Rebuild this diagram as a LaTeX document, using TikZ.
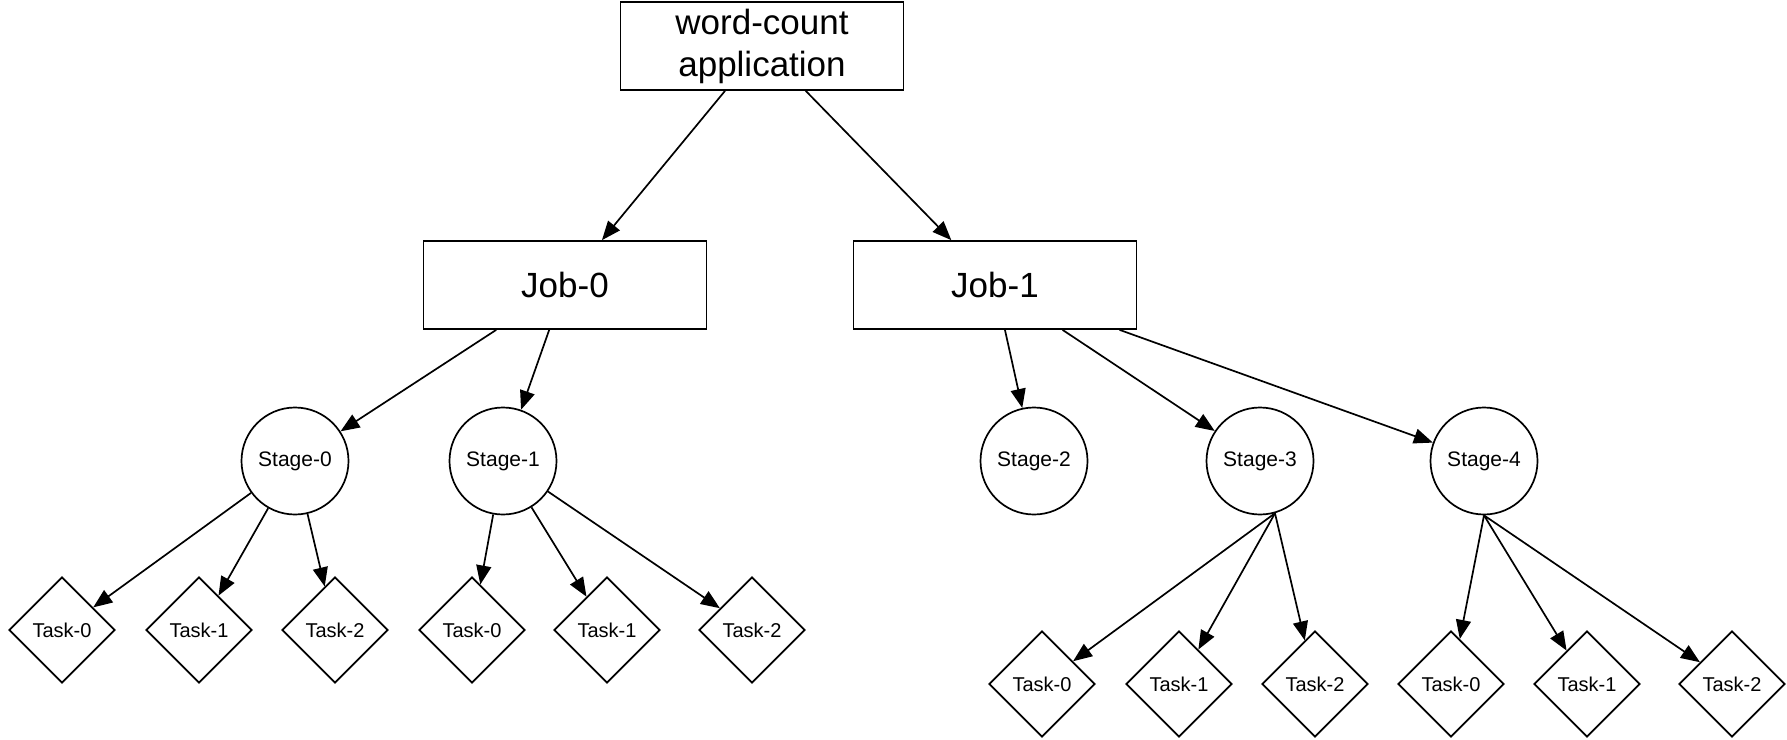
\documentclass[tikz,border=0pt]{standalone}
\usepackage{fontspec}
\setmainfont{Liberation Sans}
\usetikzlibrary{shapes.geometric,arrows.meta}

\tikzset{
  box/.style={draw, rectangle, minimum width=141.5pt, minimum height=44pt, inner sep=0pt, align=center, font=\fontsize{17.5}{21}\selectfont},
  stage/.style={draw, circle, minimum size=53.5pt, inner sep=0pt, font=\fontsize{10.5}{12}\selectfont},
  task/.style={draw, diamond, minimum width=53pt, minimum height=53pt, inner sep=0pt, font=\fontsize{10}{12}\selectfont},
  pfeil/.style={-{Triangle[length=9.5pt,width=7.5pt]}}
}

\begin{document}
\begin{tikzpicture}[x=0.5pt,y=-0.5pt,line width=0.85pt]
  \useasboundingbox (0,0) rectangle (1787,739);

  %Anwendung und Jobs
  \node[box] (app) at (762,46) {word-count\\application};
  \node[box] (job0) at (565,285) {Job-0};
  \node[box] (job1) at (995,285) {Job-1};

  %Stages
  \foreach \n/\x in {0/295,1/503,2/1034,3/1260,4/1484}
    \node[stage] (s\n) at (\x,461) {Stage-\n};

  %Tasks
  \foreach \s/\y/\xa/\xb/\xc in {0/630/62/199/335, 1/630/472/607/752, 3/684/1042/1179/1315, 4/684/1451/1587/1732}{
    \foreach \t/\x in {0/\xa,1/\xb,2/\xc}
      \node[task] (t\s\t) at (\x,\y) {Task-\t};
  }

  %Pfeile
  \draw[pfeil] (app) -- (job0);
  \draw[pfeil] (app) -- (job1);
  \draw[pfeil] (job0) -- (s0);
  \draw[pfeil] (job0) -- (s1);
  \foreach \n in {2,3,4}
    \draw[pfeil] (job1) -- (s\n);
  \foreach \t in {0,1,2}{
    \draw[pfeil] (s0) -- (t0\t);
    \draw[pfeil] (s1) -- (t1\t);
    \draw[pfeil] (s3.-74) -- (t3\t);
    \draw[pfeil] (s4.south) -- (t4\t);
  }
\end{tikzpicture}
\end{document}
